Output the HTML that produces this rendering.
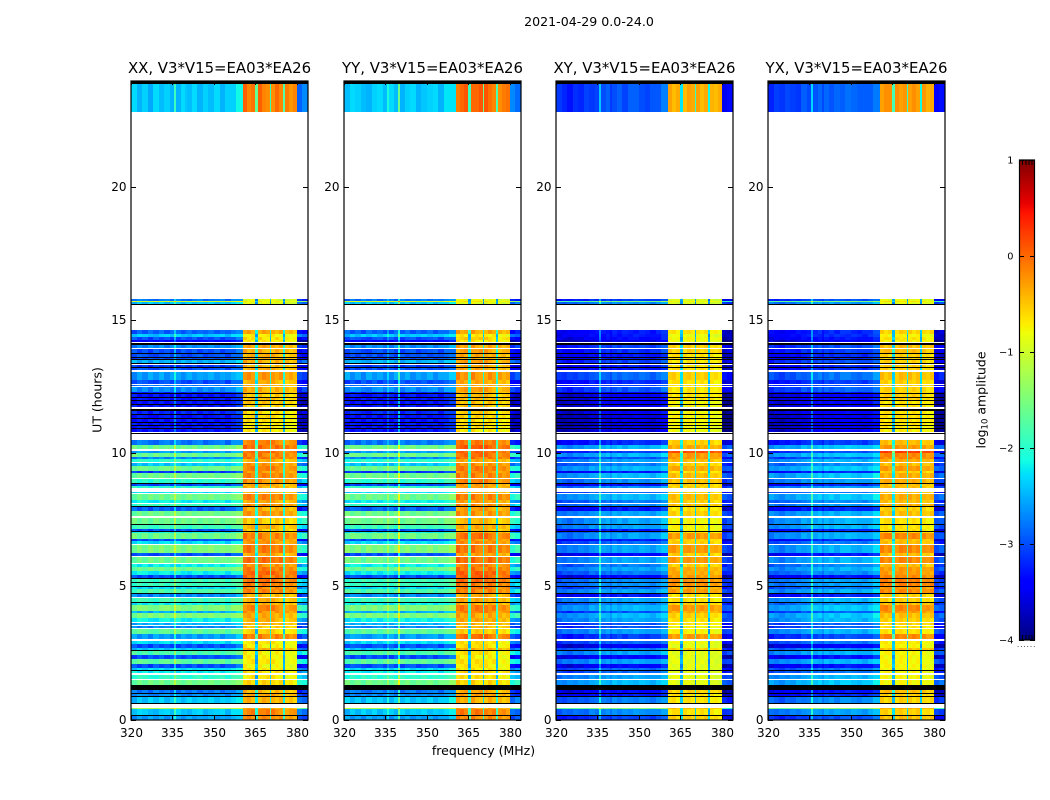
<!DOCTYPE html>
<html lang="en">
<head>
<meta charset="utf-8">
<title>2021-04-29 0.0-24.0</title>
<style>
html,body{margin:0;padding:0;background:#fff;}
svg{display:block;}
text{font-family:"DejaVu Sans","Liberation Sans",sans-serif;fill:#000;}
</style>
</head>
<body>
<svg id="chart" xmlns="http://www.w3.org/2000/svg" width="1050" height="800" viewBox="0 0 1050 800">
<rect x="0" y="0" width="1050" height="800" fill="#fff"/>
<text x="589" y="26" text-anchor="middle" font-size="12.6">2021-04-29 0.0-24.0</text>
<text transform="translate(101.5,400) rotate(-90)" text-anchor="middle" font-size="12.5">UT (hours)</text>
<text x="483.5" y="755" text-anchor="middle" font-size="12.5">frequency (MHz)</text>
<text transform="translate(985.5,400) rotate(-90)" text-anchor="middle" font-size="12.5">log<tspan font-size="8.5" dy="2">10</tspan><tspan dy="-2"> amplitude</tspan></text>
<g id="panels"></g>
<g id="colorbar"></g>
<text x="1017" y="647" font-size="7" fill="#999" letter-spacing="1">......</text>
</svg>
<script>
// Panel titles
const panelTitles = ["XX, V3*V15=EA03*EA26", "YY, V3*V15=EA03*EA26", "XY, V3*V15=EA03*EA26", "YX, V3*V15=EA03*EA26"];
// Axis tick values
const xTickValues = [320, 335, 350, 365, 380];
const yTickValues = [0, 5, 10, 15, 20];
const colorbarTicks = [-4, -3, -2, -1, 0, 1];

// Start of each time segment, counted in integrations (1 integration = 24/639 h)
const segmentStart = [
0,4,5,11,12,16,17,23,24,26,
27,30,35,40,41,45,47,49,50,52,
56,61,65,69,70,72,76,79,81,86,
91,92,94,95,97,98,102,107,109,115,
117,118,122,123,126,127,131,133,134,137,
138,141,142,145,149,153,156,157,163,164,
167,175,176,179,181,187,188,189,191,195,
196,202,204,209,213,214,216,217,220,226,
227,228,232,234,236,237,241,242,247,249,
254,257,258,261,263,267,269,271,275,280,
286,287,288,291,292,294,295,297,298,301,
302,305,306,309,311,313,315,316,319,320,
322,323,326,327,328,333,334,335,336,340,
348,350,352,353,355,356,357,360,361,362,
363,366,367,371,372,375,377,378,380,383,
386,390,415,416,418,419,421,
608,636];
const totalSamples = 639;

// log10 amplitude per segment. null = no data (white), -9 = zero amplitude (black)
const lowBandCo = [
-2.6,-9,-2.4,-1.2,null,-9,-2.4,-9,-2.7,-9,
-2.8,-9,-1.6,null,-2.0,null,-2.2,-9,-2.3,-3.0,
-1.7,-3.0,-1.8,-9,-2.4,-3.0,-2.3,null,-2.6,-1.7,
null,-2.7,null,-2.5,null,-2.2,-1.5,-2.5,-1.5,-2.2,
-9,-1.9,null,-2.7,-9,-1.8,-2.3,-9,-1.9,-9,
-1.9,-9,-3.0,-2.2,-1.6,-2.2,null,-1.6,null,-3.0,
-1.5,null,-2.3,-3.0,-1.6,-2.2,-9,-3.0,-1.9,-9,
-1.6,null,-1.6,-2.9,-9,-1.9,null,-2.2,-1.6,null,
-2.3,null,-2.0,-3.0,-9,-2.0,null,-1.6,-3.1,-1.6,
-2.4,null,-2.0,-2.7,-1.6,-2.6,null,-1.6,-2.8,null,
-9,null,-3.3,-9,-3.3,-9,-3.3,-9,-3.3,-9,
-3.3,-9,-3.2,-9,null,-3.3,-9,-3.3,-9,-3.3,
-9,-3.3,-9,-3.2,-2.7,null,-2.8,null,-3.0,-2.6,
null,-3.0,-9,-3.1,null,-9,-2.5,-9,-3.0,-9,
-3.0,-9,-3.0,null,-2.7,-9,null,-3.4,-3.0,-2.4,
-2.9,null,-9,-2.4,-1.0,-2.8,null,
-2.4,-9];
const highBandCo = [
-0.3,-9,-0.25,-0.45,null,-9,-0.5,-9,-0.45,-9,
-0.5,-9,-0.7,null,-0.8,null,-0.7,-9,-0.8,-0.85,
-0.8,-0.85,-0.8,-9,-0.5,-0.8,-0.8,null,-0.2,-0.7,
null,-0.6,null,-0.5,null,-0.5,-0.45,-0.3,-0.25,-0.5,
-9,-0.5,null,-0.5,-9,-0.25,-0.25,-9,-0.2,-9,
-0.15,-9,-0.1,-0.1,-0.2,-0.3,null,-0.15,null,-0.45,
-0.2,null,-0.35,-0.35,-0.2,-0.5,-9,-0.6,-0.5,-9,
-0.6,null,-0.35,-0.45,-9,-0.3,null,-0.45,-0.25,null,
-0.5,null,-0.45,-0.45,-9,-0.3,null,-0.25,-0.35,-0.25,
-0.35,null,-0.5,-0.2,-0.2,-0.15,null,-0.1,-0.25,null,
-9,null,-0.8,-9,-0.8,-9,-0.75,-9,-0.75,-9,
-0.75,-9,-0.7,-9,null,-0.65,-9,-0.6,-9,-0.6,
-9,-0.6,-9,-0.5,-0.45,null,-0.45,null,-0.5,-0.35,
null,-0.5,-9,-0.5,null,-9,-0.45,-9,-0.5,-9,
-0.5,-9,-0.45,null,-0.45,-9,null,-0.8,-0.7,-0.85,
-0.45,null,-9,-1.0,-0.8,-1.0,null,
-0.15,-9];
const lowBandCross = [
-3.0,-9,-2.6,-1.4,null,-9,-2.7,-9,-3.2,-9,
-3.3,-9,-2.4,null,-2.5,null,-2.8,-9,-2.8,-3.3,
-2.5,-3.3,-2.5,-9,-2.7,-3.4,-2.8,null,-3.0,-2.5,
null,-2.9,null,-2.9,null,-2.5,-2.4,-2.9,-2.4,-2.7,
-9,-2.5,null,-3.2,-9,-2.5,-2.8,-9,-2.6,-9,
-2.6,-9,-3.3,-2.7,-2.5,-2.7,null,-2.5,null,-3.3,
-2.5,null,-2.8,-3.2,-2.5,-2.7,-9,-3.2,-2.5,-9,
-2.5,null,-2.5,-3.2,-9,-2.6,null,-2.7,-2.4,null,
-2.8,null,-2.6,-3.2,-9,-2.6,null,-2.4,-3.2,-2.4,
-2.7,null,-2.5,-2.9,-2.4,-3.0,null,-2.4,-3.1,null,
-9,null,-3.5,-9,-3.5,-9,-3.5,-9,-3.5,-9,
-3.5,-9,-3.4,-9,null,-3.4,-9,-3.4,-9,-3.4,
-9,-3.4,-9,-3.3,-2.9,null,-3.0,null,-3.1,-2.8,
null,-3.2,-9,-3.2,null,-9,-3.0,-9,-3.2,-9,
-3.2,-9,-3.1,null,-3.0,-9,null,-3.5,-3.3,-3.2,
-3.2,null,-9,-2.6,-1.5,-3.0,null,
-2.9,-9];
const highBandCross = [
-0.6,-9,-0.7,-0.5,null,-9,-0.7,-9,-0.7,-9,
-0.6,-9,-0.9,null,-0.9,null,-0.9,-9,-0.9,-0.9,
-0.9,-0.9,-0.9,-9,-0.6,-0.9,-0.85,null,-0.3,-0.8,
null,-0.8,null,-0.7,null,-0.7,-0.6,-0.4,-0.3,-0.6,
-9,-0.7,null,-0.7,-9,-0.3,-0.4,-9,-0.25,-9,
-0.25,-9,-0.3,-0.4,-0.4,-0.6,null,-0.3,null,-0.6,
-0.3,null,-0.6,-0.6,-0.3,-0.7,-9,-0.8,-0.8,-9,
-0.8,null,-0.6,-0.7,-9,-0.5,null,-0.6,-0.5,null,
-0.6,null,-0.6,-0.6,-9,-0.5,null,-0.5,-0.7,-0.4,
-0.6,null,-0.5,-0.3,-0.3,0.1,null,-0.4,-0.6,null,
-9,null,-0.85,-9,-0.85,-9,-0.8,-9,-0.8,-9,
-0.8,-9,-0.8,-9,null,-0.8,-9,-0.8,-9,-0.7,
-9,-0.7,-9,-0.7,-0.7,null,-0.7,null,-0.7,-0.6,
null,-0.7,-9,-0.7,null,-9,-0.7,-9,-0.7,-9,
-0.7,-9,-0.6,null,-0.6,-9,null,-0.85,-0.8,-0.9,
-0.7,null,-9,-1.0,-0.8,-1.0,null,
-0.4,-9];

// Frequency channel block edges in MHz; the high band spans 360.4 to 380 MHz
const freqEdges = [320,322,324,326,328,330,332,334,335.6,336.3,338,339.7,340.4,342,344,346,348,350,352,354,356,358,360.4,
361.9,363.4,365,365.9,367.3,368.7,370.2,370.7,372.1,373.6,375,375.7,377.1,378.5,380,382,384];
const highBandRange = [360.4, 380];

// Per-channel-block offsets (log10), cycled over time segments
const shapeCoA = [-0.15,0.05,-0.1,0.1,-0.05,0.1,-0.1,0.05,0,0.05,-0.1,0,0.1,-0.05,0.05,0,0.1,-0.05,0.05,0,0.1,0.2,
0.1,0.2,0.05,-1.7,0.05,0.2,0.1,-1.7,0.1,0,0.15,-1.7,-0.05,0.05,-0.1,-0.4,-0.5];
const shapeCoB = [0.1,-0.1,0.05,-0.15,0.1,-0.05,0.05,-0.1,0,-0.1,0.1,0,-0.05,0.1,-0.1,0.05,-0.05,0.1,-0.1,0.05,0.05,0.25,
0.2,0,0.1,-1.5,0.2,0,-0.05,-1.8,-0.05,0.15,0,-1.6,0.05,-0.1,0,-0.5,-0.3];
const shapeCoC = [-0.05,0.1,0.05,-0.05,-0.1,0.05,0.1,-0.05,0,0.1,-0.05,0,-0.1,0.05,0.1,-0.1,0,0.05,0.1,-0.1,0.15,0.15,
0,0.1,0.2,-1.8,0.1,0.1,0.2,-1.5,0.2,0.05,-0.05,-1.7,-0.1,0,0.05,-0.3,-0.45];
const shapeCrossA = [-0.1,-0.15,-0.05,-0.1,0,-0.05,0.05,0.1,0,0.15,0.1,0,0.2,0.1,0.2,0.15,0.1,0.2,0.15,0.05,0.2,0.3,
0.1,0.15,0,-1.6,0.1,0.15,0.05,-1.7,0.1,0.05,0.15,-1.6,0,0.05,-0.05,-0.3,-0.4];
const shapeCrossB = [0,-0.1,-0.2,-0.05,-0.1,0.05,0,0.05,0,0.1,0.2,0,0.1,0.2,0.05,0.2,0.2,0.1,0.05,0.15,0.15,0.35,
0.15,0,0.1,-1.8,0,0.15,0.1,-1.5,0.15,0,0.1,-1.7,0.05,0,0.1,-0.4,-0.25];
const shapeCrossC = [-0.2,-0.05,-0.1,0,-0.05,-0.1,0.1,0,0,0.05,0.15,0,0.15,0.05,0.15,0.1,0.2,0.15,0.1,0.1,0.1,0.25,
0.05,0.15,0.15,-1.5,0.15,0.05,0.1,-1.6,0.05,0.15,0.05,-1.8,0.1,-0.05,0,-0.35,-0.3];

// Interference lines: frequency (MHz) and per-panel boost (log10)
const lineFreqs = [336, 340];
const lineBoostXX = [0.5, 0];
const lineBoostYY = [0.3, 0.8];
const lineBoostXY = [0.7, 0];
const lineBoostYX = [0.7, 0];

// Per-panel level shifts (log10): XX, YY, XY, YX
const panelLowShift = [0, 0, -0.2, -0.12];
const panelHighShift = [0, 0.05, -0.05, 0.05];

const SVG_NS = "http://www.w3.org/2000/svg";
const plotLeft = [131, 344, 556, 768];
const plotWidth = 177, plotTop = 81, plotBottom = 720;
const hoursPerSample = 24 / totalSamples;

function yScale(h) { return plotBottom - (h / 24) * (plotBottom - plotTop); }
function xScale(left, f) { return left + ((f - 320) / 64) * plotWidth; }
function cbScale(v) { return 640 - ((v + 4) / 5) * 480; }

function ramp(t, pts) {
  for (let i = 1; i < pts.length; i++) {
    if (t <= pts[i][0]) {
      const a = pts[i - 1], b = pts[i];
      return a[1] + (b[1] - a[1]) * (t - a[0]) / (b[0] - a[0]);
    }
  }
  return pts[pts.length - 1][1];
}
const jetR = [[0,0],[0.35,0],[0.66,1],[0.89,1],[1,0.5]];
const jetG = [[0,0],[0.125,0],[0.375,1],[0.64,1],[0.91,0],[1,0]];
const jetB = [[0,0.5],[0.11,1],[0.34,1],[0.65,0],[1,0]];
function jet(v) {
  if (v <= -9) return "#000";
  const t = Math.max(0, Math.min(1, (v + 4) / 5));
  return "rgb(" + Math.round(255 * ramp(t, jetR)) + "," + Math.round(255 * ramp(t, jetG)) + "," + Math.round(255 * ramp(t, jetB)) + ")";
}
function make(tag, attrs, parent) {
  const el = document.createElementNS(SVG_NS, tag);
  for (const k in attrs) el.setAttribute(k, attrs[k]);
  parent.appendChild(el);
  return el;
}

const panelsGroup = document.getElementById("panels");
const panelLow = [lowBandCo, lowBandCo, lowBandCross, lowBandCross];
const panelHigh = [highBandCo, highBandCo, highBandCross, highBandCross];
const panelShapes = [
  [shapeCoA, shapeCoB, shapeCoC],
  [shapeCoB, shapeCoC, shapeCoA],
  [shapeCrossA, shapeCrossB, shapeCrossC],
  [shapeCrossB, shapeCrossC, shapeCrossA]
];
const panelLines = [lineBoostXX, lineBoostYY, lineBoostXY, lineBoostYX];
const panelNames = ["xx", "yy", "xy", "yx"];

panelTitles.forEach(function (title, p) {
  const left = plotLeft[p];
  const g = make("g", {}, panelsGroup);
  
  

  const cells = make("g", { "shape-rendering": "crispEdges" }, g);
  
  

  segmentStart.forEach(function (start, s) {
    const low = panelLow[p][s];
    if (low === null) return;
    const high = panelHigh[p][s];
    const end = s + 1 < segmentStart.length ? segmentStart[s + 1] : totalSamples;
    const y1 = Math.round(yScale(end * hoursPerSample));
    const y2 = Math.round(yScale(start * hoursPerSample));
    const shape = panelShapes[p][s % 3];
    for (let c = 0; c + 1 < freqEdges.length; c++) {
      const f1 = freqEdges[c], f2 = freqEdges[c + 1];
      let v;
      if (low <= -9) {
        v = -9;
      } else {
        const inHigh = f1 >= highBandRange[0] && f2 <= highBandRange[1];
        v = inHigh ? high + panelHighShift[p] + shape[c] : low + panelLowShift[p] + shape[c];
        lineFreqs.forEach(function (lf, i) {
          if (lf >= f1 && lf <= f2) v += panelLines[p][i];
        });
      }
      const x1 = Math.round(xScale(left, f1));
      const x2 = Math.round(xScale(left, f2));
      const cell = make("rect", { x: x1, y: y1, width: x2 - x1, height: y2 - y1, fill: jet(v) }, cells);
      
      
    }
  });

  const ticks = make("g", { stroke: "#000", "stroke-width": 1 }, g);
  
  
  xTickValues.forEach(function (f) {
    const x = Math.round(xScale(left, f)) + 0.5;
    make("line", { x1: x, x2: x, y1: plotBottom, y2: plotBottom - 4 }, ticks);
    make("line", { x1: x, x2: x, y1: plotTop, y2: plotTop + 4 }, ticks);
    const lbl = make("text", { x: x, y: plotBottom + 17, "text-anchor": "middle", "font-size": 12, stroke: "none" }, g);
    
    
    lbl.textContent = String(f);
  });
  yTickValues.forEach(function (h) {
    const y = Math.floor(yScale(h)) + 0.5;
    make("line", { x1: left, x2: left + 5, y1: y, y2: y }, ticks);
    make("line", { x1: left + plotWidth, x2: left + plotWidth - 5, y1: y, y2: y }, ticks);
    const lbl = make("text", { x: left - 4.5, y: y + 3.5, "text-anchor": "end", "font-size": 12, stroke: "none" }, g);
    
    
    lbl.textContent = String(h);
  });

  const frame = make("rect", { x: left, y: plotTop, width: plotWidth, height: plotBottom - plotTop, fill: "none", stroke: "#000", "stroke-width": 1.2 }, g);
  
  

  const t = make("text", { x: left + plotWidth / 2, y: 73, "text-anchor": "middle", "font-size": 14.9 }, g);
  
  
  t.textContent = title;
});

// Colorbar
const cb = document.getElementById("colorbar");
const cbRamp = make("g", { "shape-rendering": "crispEdges" }, cb);


for (let py = 160; py < 640; py += 2) {
  const v = -4 + (640 - py - 1) / 96;
  make("rect", { x: 1019, y: py, width: 16, height: 2, fill: jet(v) }, cbRamp);
}
const cbFrame = make("rect", { x: 1019.5, y: 160, width: 15, height: 480, fill: "none", stroke: "#000", "stroke-width": 1.2 }, cb);


colorbarTicks.forEach(function (v) {
  const y = Math.floor(cbScale(v)) + 0.5;
  make("line", { x1: 1019, x2: 1024, y1: y, y2: y, stroke: "#000" }, cb);
  make("line", { x1: 1030, x2: 1035, y1: y, y2: y, stroke: "#000" }, cb);
  const lbl = make("text", { x: 1013.5, y: y + 3, "text-anchor": "end", "font-size": 9.8 }, cb);
  
  
  lbl.textContent = v < 0 ? "\u2212" + Math.abs(v) : String(v);
});
[1022.5, 1026, 1029, 1032].forEach(function (x) {
  make("line", { x1: x, x2: x, y1: 160, y2: 165, stroke: "#000" }, cb);
  make("line", { x1: x, x2: x, y1: 640, y2: 635, stroke: "#000" }, cb);
});
</script>
</body>
</html>
